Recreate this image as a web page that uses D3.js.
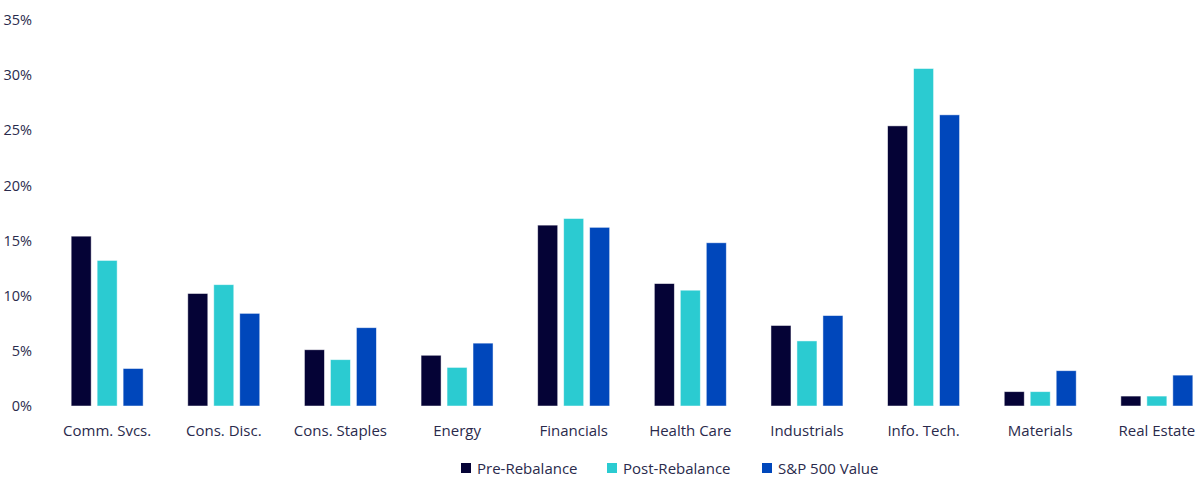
<!DOCTYPE html>
<html>
<head>
<meta charset="utf-8">
<script src="https://cdn.jsdelivr.net/npm/d3@7"></script>
<style>
  body { margin: 0; background: #fff; }
  text { font-family: "Open Sans", sans-serif; fill: #2a2a4c; }
</style>
</head>
<body>
<svg></svg>
<script>
const size = { w: 1200, h: 493 };

// sectors along the x axis
const sectors = ["Comm. Svcs.", "Cons. Disc.", "Cons. Staples", "Energy", "Financials",
  "Health Care", "Industrials", "Info. Tech.", "Materials", "Real Estate"];
const seriesNames = ["Pre-Rebalance", "Post-Rebalance", "S&P 500 Value"];

// weights in %
const preRebalance = [15.4, 10.2, 5.1, 4.6, 16.4, 11.1, 7.3, 25.4, 1.3, 0.9];
const postRebalance = [13.2, 11.0, 4.2, 3.5, 17.0, 10.5, 5.9, 30.6, 1.3, 0.9];
const spValue = [3.4, 8.4, 7.1, 5.7, 16.2, 14.8, 8.2, 26.4, 3.2, 2.8];

const yTicks = [0, 5, 10, 15, 20, 25, 30, 35];
const colors = ["#050336", "#2bcbd1", "#0047bb"];

const svg = d3.select("svg").attr("width", size.w).attr("height", size.h);

const allSeries = [preRebalance, postRebalance, spValue];
const rows = sectors.map((s, i) => ({ sector: s, vals: allSeries.map((a, k) => ({ k, v: a[i] })) }));

const x = d3.scaleBand().domain(sectors).range([49, 1215])
  .paddingInner(0.383).paddingOuter(0.19);
const xInner = d3.scaleBand().domain([0, 1, 2]).range([0, x.bandwidth()])
  .paddingInner(0.23);
const y = d3.scaleLinear().domain([0, 35]).range([406, 20]);

// y axis, labels only
const yAxis = d3.axisLeft(y).tickValues(yTicks).tickFormat(d => d + "%").tickSize(0).tickPadding(0);
svg.append("g").attr("transform", "translate(32,0)").call(yAxis)
  .call(g => g.select(".domain").remove())
  .call(g => g.selectAll("text").style("font-size", "14.5px").style("font-family", "Open Sans").attr("fill", "#2a2a4c"));

// x axis labels
const xAxis = d3.axisBottom(x).tickSize(0).tickPadding(0);
svg.append("g").attr("transform", "translate(0,425)").call(xAxis)
  .call(g => g.select(".domain").remove())
  .call(g => g.selectAll("text").style("font-size", "15px").style("font-family", "Open Sans").attr("fill", "#2a2a4c"));

// bars
const groups = svg.append("g").selectAll("g").data(rows).join("g")
  .attr("transform", d => `translate(${x(d.sector)},0)`);

groups.selectAll("rect").data(d => d.vals).join("rect")
  .attr("x", d => xInner(d.k))
  .attr("width", xInner.bandwidth())
  .attr("y", d => y(d.v))
  .attr("height", d => y(0) - y(d.v))
  .attr("fill", d => colors[d.k])
  .attr("stroke", "rgba(255,255,255,0.6)")
  .attr("stroke-width", 0.8);

// legend
const legendX = [461, 607, 762];
const legend = svg.append("g").selectAll("g").data(seriesNames).join("g")
  .attr("transform", (d, i) => `translate(${legendX[i]},463)`);
legend.append("rect").attr("width", 10).attr("height", 10).attr("fill", (d, i) => colors[i]);
legend.append("text").attr("x", 16).attr("y", 5.5).attr("dy", "0.35em")
  .style("font-size", "15px").text(d => d);
</script>
</body>
</html>
